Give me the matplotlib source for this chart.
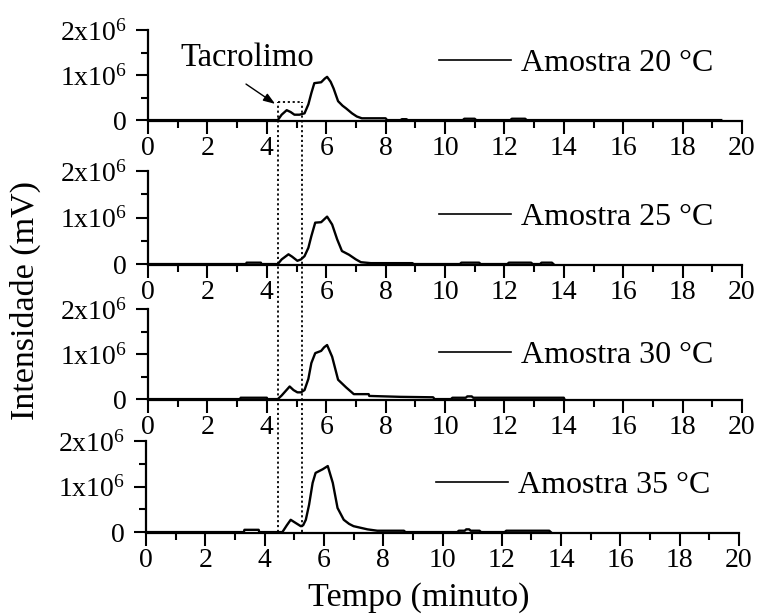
import matplotlib
matplotlib.use("Agg")
import matplotlib.pyplot as plt
from matplotlib.lines import Line2D
import numpy as np

plt.rcParams['font.family'] = ['Liberation Serif', 'DejaVu Serif']
plt.rcParams['mathtext.fontset'] = 'custom'
plt.rcParams['mathtext.rm'] = 'Liberation Serif'
plt.rcParams['mathtext.it'] = 'Liberation Serif'

t20 = [0, 4.37, 4.5, 4.67, 4.8, 4.93, 5.1, 5.27, 5.4, 5.5, 5.6, 5.83, 5.95, 6.03, 6.15,
       6.25, 6.33, 6.4, 6.55, 6.67, 6.87, 7.03, 7.2, 8.0, 8.05, 8.5, 8.55, 8.7, 8.75, 10.6,
       10.65, 11.0, 11.05, 12.2, 12.25, 12.7, 12.75, 19.3]
i20 = [0, 0, 0.12, 0.22, 0.18, 0.12, 0.12, 0.15, 0.35, 0.6, 0.82, 0.84, 0.92, 0.96, 0.85,
       0.7, 0.55, 0.42, 0.32, 0.26, 0.15, 0.08, 0.04, 0.04, 0, 0, 0.02, 0.02, 0, 0,
       0.03, 0.03, 0, 0, 0.03, 0.03, 0, 0]

t25 = [0, 3.3, 3.32, 3.8, 3.82, 4.37, 4.5, 4.73, 4.85, 5.03, 5.15, 5.27, 5.4, 5.5, 5.63,
       5.83, 5.93, 6.03, 6.2, 6.37, 6.53, 6.77, 7.0, 7.17, 7.5, 8.9, 8.95, 10.5, 10.55,
       11.15, 11.2, 12.1, 12.15, 12.9, 12.95, 13.2, 13.25, 13.6, 13.65]
i25 = [0, 0, 0.03, 0.03, 0, 0, 0.1, 0.21, 0.16, 0.07, 0.1, 0.17, 0.35, 0.6, 0.89,
       0.9, 0.96, 1.02, 0.85, 0.53, 0.28, 0.2, 0.1, 0.04, 0.02, 0.02, 0, 0, 0.03,
       0.03, 0, 0, 0.03, 0.03, 0, 0, 0.03, 0.03, 0]

t30 = [0, 3.1, 3.12, 4.0, 4.02, 4.37, 4.5, 4.77, 4.9, 5.03, 5.15, 5.27, 5.4, 5.5, 5.63,
       5.83, 5.93, 6.03, 6.2, 6.4, 6.67, 6.93, 7.43, 7.45, 8.5, 9.6, 9.65, 10.2, 10.25,
       10.7, 10.75, 10.9, 10.95, 14.0, 14.02]
i30 = [0, 0, 0.03, 0.03, 0, 0, 0.08, 0.28, 0.2, 0.15, 0.15, 0.2, 0.45, 0.8, 1.02,
       1.07, 1.15, 1.2, 0.94, 0.43, 0.26, 0.11, 0.11, 0.07, 0.05, 0.04, 0, 0, 0.03,
       0.03, 0.06, 0.06, 0.03, 0.03, 0]

t35 = [0, 3.3, 3.32, 3.8, 3.82, 4.6, 4.75, 4.88, 5.0, 5.22, 5.3, 5.39, 5.5, 5.62, 5.72,
       5.96, 6.13, 6.3, 6.46, 6.67, 6.85, 7.0, 7.47, 7.8, 8.7, 8.75, 10.5, 10.55, 10.75,
       10.8, 10.9, 10.95, 11.25, 11.3, 12.1, 12.15, 13.6, 13.65]
i35 = [0, 0, 0.05, 0.05, 0, 0, 0.15, 0.27, 0.22, 0.13, 0.15, 0.27, 0.6, 1.08, 1.3,
       1.38, 1.45, 1.08, 0.53, 0.27, 0.18, 0.13, 0.06, 0.03, 0.03, 0, 0, 0.03, 0.03,
       0.06, 0.06, 0.03, 0.03, 0, 0, 0.03, 0.03, 0]

series = [(t20, i20, 'Amostra 20 °C'), (t25, i25, 'Amostra 25 °C'),
          (t30, i30, 'Amostra 30 °C'), (t35, i35, 'Amostra 35 °C')]

# janela do tacrolimo (min) e topo da caixa (x10^6)
janela = [4.37, 5.2]
topo_caixa = 0.4

W, H = 760, 616
fig = plt.figure(figsize=(W / 100, H / 100), dpi=100)

# posicoes em pixels (esq, dir, topo, base)
caixas = [(148, 742, 30, 121), (148, 742, 171, 265), (148, 742, 309, 400), (146, 739, 441, 533)]
leg_y = [0.63, 0.51, 0.49, 0.52]

axes = []
for k, (t, y, nome) in enumerate(series):
    l, r, tp, bt = caixas[k]
    ax = fig.add_axes([l / W, 1 - bt / H, (r - l) / W, (bt - tp) / H])
    ax.plot(t, np.array(y) * 1e6, color='black', lw=1.7)
    ax.set_xlim(0, 20)
    ax.set_ylim(-0.02e6, 2e6)
    ax.spines['top'].set_visible(False)
    ax.spines['right'].set_visible(False)
    ax.spines['left'].set_linewidth(1.6)
    ax.spines['bottom'].set_linewidth(1.6)
    ax.spines['left'].set_bounds(0, 2e6)
    ax.set_xticks(range(0, 21, 2))
    ax.set_xticks(range(1, 20, 2), minor=True)
    ax.set_yticks([0, 1e6, 2e6])
    ax.set_yticklabels(['0', '1x10$^{6}$', '2x10$^{6}$'])
    ax.set_yticks([0.5e6, 1.5e6], minor=True)
    ax.tick_params(axis='both', which='major', direction='out', width=1.5, labelsize=20)
    ax.tick_params(axis='x', which='major', length=9, pad=2)
    ax.tick_params(axis='y', which='major', length=9, pad=6)
    ax.tick_params(axis='both', which='minor', direction='out', width=1.5, length=5)
    ax.patch.set_alpha(0)
    h = Line2D([], [], color='black', lw=1.2)
    ax.legend([h], [nome], loc='center right', bbox_to_anchor=(0.951, leg_y[k]),
              frameon=False, fontsize=23, handlelength=2.25, handletextpad=0.3,
              borderpad=0, borderaxespad=0)
    axes.append(ax)

ax1 = axes[0]
ax1.plot(janela, [topo_caixa * 1e6] * 2, color='black', lw=1.3, ls=(0, (1.2, 1.5)))
ax1.annotate('', xy=(4.28, 0.36e6), xytext=(3.3, 0.8e6),
             arrowprops=dict(arrowstyle='-|>,head_length=0.7,head_width=0.25',
                             color='black', lw=1.0, shrinkA=0, shrinkB=0))
ax1.text(3.33, 1.38e6, 'Tacrolimo', ha='center', va='center', fontsize=23.5)

# linhas pontilhadas verticais atravessando os paineis
inv = fig.transFigure.inverted()
y_base = inv.transform(axes[3].transData.transform((0, 0)))[1]
for xv in janela:
    x0, y0 = inv.transform(ax1.transData.transform((xv, topo_caixa * 1e6)))
    fig.add_artist(Line2D([x0, x0], [y_base, y0], transform=fig.transFigure,
                          color='black', lw=1.3, ls=(0, (1.2, 1.5))))

fig.text(25 / W, 1 - 300 / H, 'Intensidade (mV)', rotation=90, ha='center', va='center', fontsize=24.5)
fig.text(419 / W, 1 - 598 / H, 'Tempo (minuto)', ha='center', va='center', fontsize=24.5)

fig.savefig('out.png', dpi=100)
